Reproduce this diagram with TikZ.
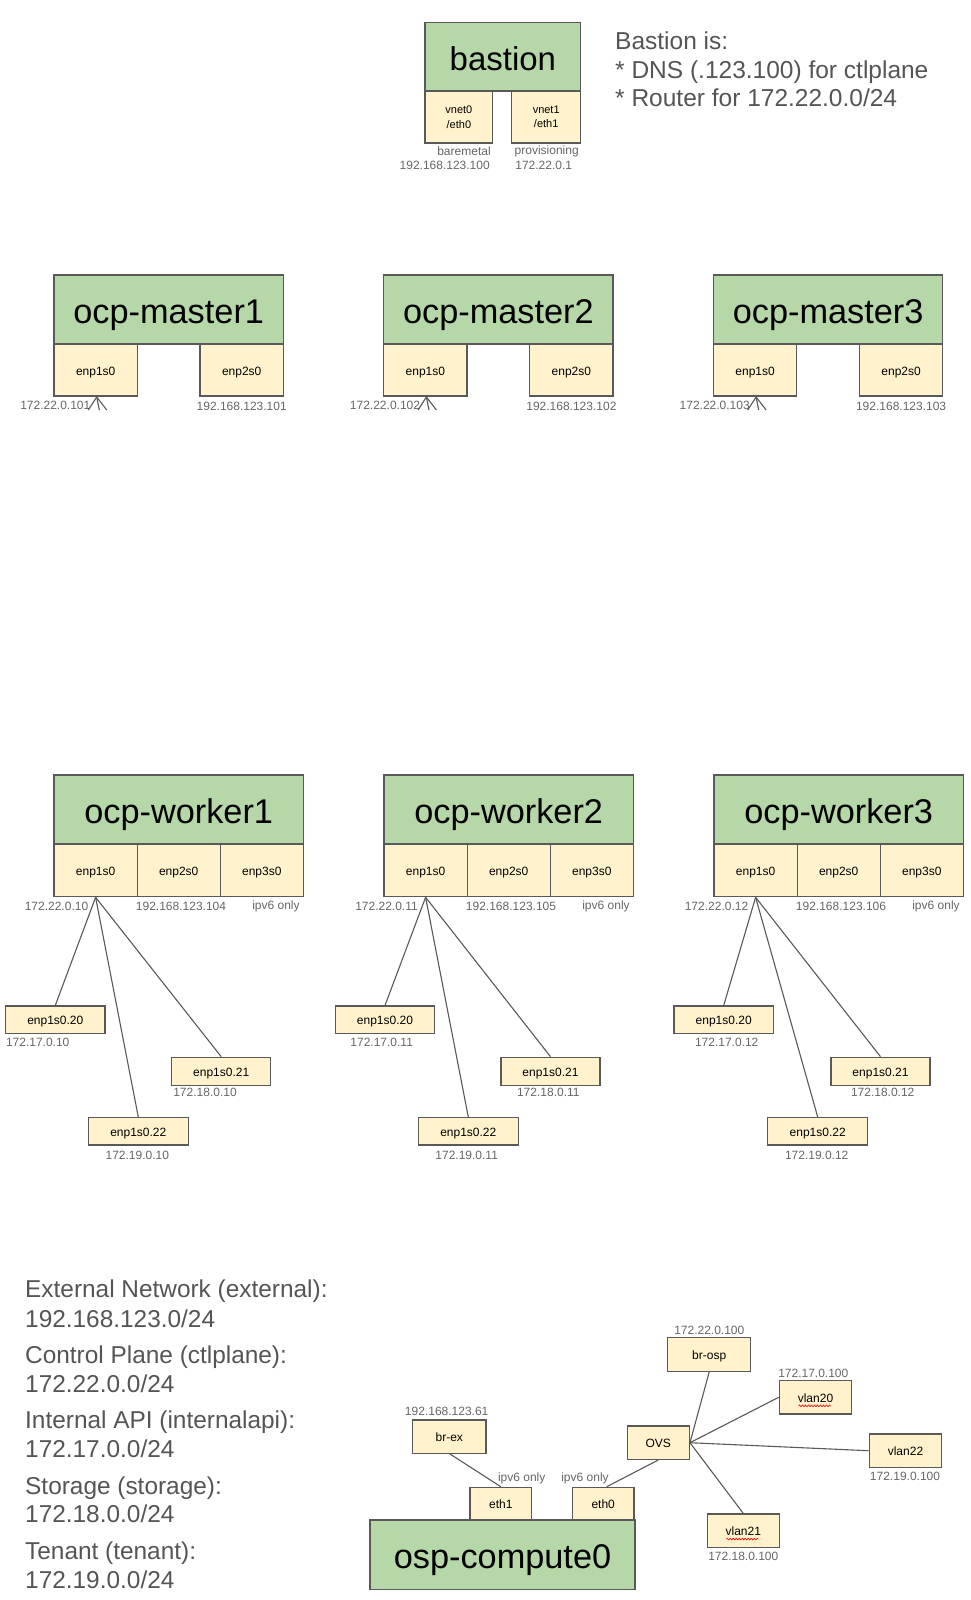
\documentclass[tikz,border=0pt]{standalone}
\usepackage{fontspec}
\setmainfont{Liberation Sans}
\usetikzlibrary{decorations.pathmorphing}
\definecolor{hostgreen}{HTML}{B6D7A8}
\definecolor{ifyellow}{HTML}{FFF2CC}
\definecolor{edgegray}{HTML}{595959}
\definecolor{labelgray}{HTML}{666666}
\definecolor{notegray}{HTML}{555555}
\newcommand\fsz[1]{\fontsize{#1}{#1}\selectfont}
\tikzset{
  host/.style={draw=edgegray, line width=1.3pt, fill=hostgreen, inner sep=0pt, text=black, text height=27pt, text depth=0pt},
  iface/.style={draw=edgegray, line width=1.3pt, fill=ifyellow, inner sep=0pt, text=black, font=\fsz{12}, text height=10pt, text depth=0pt},
  twoline/.style={draw=edgegray, line width=1.3pt, fill=ifyellow, inner sep=0pt, text=black, align=center, font=\fontsize{11}{14.5}\selectfont},
  lbl/.style={inner sep=0pt, text=labelgray, font=\fsz{12}},
  note/.style={inner sep=0pt, text=notegray, anchor=base west},
  link/.style={draw=edgegray, line width=1.1pt},
  spell/.style={draw=red, line width=0.6pt, decorate, decoration={snake, amplitude=0.9pt, segment length=3pt}},
}
\begin{document}
\begin{tikzpicture}[x=1pt,y=-1pt]
\useasboundingbox[fill=white] (0,0) rectangle (971,1600);

% ---------------- bastion ----------------
\node[host, minimum width=155.7pt, minimum height=68.7pt, font=\fsz{33}] (bastion) at (502.9,56.7) {bastion};
\node[twoline, minimum width=67.7pt, minimum height=52pt] (vnet0) at (458.9,117) {vnet0\\/eth0};
\node[twoline, minimum width=69pt, minimum height=52pt] (vnet1) at (546.2,117) {vnet1\\/eth1};
\node[lbl] (bmlbl) at (464,151) {baremetal};
\node[lbl] (bmip) at (444.7,165.2) {192.168.123.100};
\node[lbl] (provlbl) at (546.7,151) {provisioning};
\node[lbl] (provip) at (543.7,165.2) {172.22.0.1};

\node[note, font=\fsz{24.5}] (bnote1) at (615,50) {Bastion is:};
\node[note, font=\fsz{24.5}] (bnote2) at (615,78.3) {* DNS (.123.100) for ctlplane};
\node[note, font=\fsz{24.5}] (bnote3) at (615,106.8) {* Router for 172.22.0.0/24};

% ---------------- masters ----------------
\foreach \i/\dx in {1/0, 2/329.7, 3/659.4} {
  \begin{scope}[xshift=\dx pt]
    \node[host, minimum width=229.3pt, minimum height=69pt, font=\fsz{34.3}] (m\i) at (168.7,309.5) {ocp-master\i};
    \node[iface, minimum width=83.3pt, minimum height=52pt] (m\i-a) at (95.7,370) {enp1s0};
    \node[iface, minimum width=83.3pt, minimum height=52pt] (m\i-b) at (241.7,370) {enp2s0};
    \node[lbl] (m\i-aip) at (55.3,405) {172.22.0.10\i};
    \node[lbl] (m\i-bip) at (241.7,406.7) {192.168.123.10\i};
    \coordinate (m\i-o) at (96.7,397);
    \coordinate (m\i-c1) at (88.3,410);
    \coordinate (m\i-c2) at (99.3,410);
    \coordinate (m\i-c3) at (106.7,410);
    \draw[link] (m\i-o) -- (m\i-c1);
    \draw[link] (m\i-o) -- (m\i-c2);
    \draw[link] (m\i-o) -- (m\i-c3);
  \end{scope}
}

% ---------------- workers ----------------
\foreach \i/\dx/\ip/\ext/\ax/\bx/\cx/\alx/\blx/\clx in
  {1/0/10/104/55.3/221.2/138.3/37.7/205/137.3,
   2/330/11/105/55/220.5/138.3/51.7/218.3/136.7,
   3/660/12/106/63.7/220.5/157.7/66.7/222.7/156.7} {
  \begin{scope}[xshift=\dx pt]
    \node[host, minimum width=249.3pt, minimum height=69pt, font=\fsz{34.3}] (w\i) at (178.7,809.5) {ocp-worker\i};
    \node[iface, minimum width=83.1pt, minimum height=52.7pt] (w\i-a) at (95.6,870.3) {enp1s0};
    \node[iface, minimum width=83.1pt, minimum height=52.7pt] (w\i-b) at (178.7,870.3) {enp2s0};
    \node[iface, minimum width=83.1pt, minimum height=52.7pt] (w\i-c) at (261.8,870.3) {enp3s0};
    \node[lbl] (w\i-aip) at (56.5,906) {172.22.0.\ip};
    \node[lbl] (w\i-bip) at (181,906) {192.168.123.\ext};
    \node[lbl] (w\i-cip) at (276,906) {ipv6 only};
    \node[iface, minimum width=99.3pt, minimum height=27.3pt] (w\i-v20) at (\ax,1019.7) {enp1s0.20};
    \node[iface, minimum width=99pt, minimum height=28.4pt] (w\i-v21) at (\bx,1071.5) {enp1s0.21};
    \node[iface, minimum width=100pt, minimum height=27.3pt] (w\i-v22) at (\cx,1131.3) {enp1s0.22};
    \node[lbl] (w\i-v20ip) at (\alx,1042) {172.17.0.\ip};
    \node[lbl] (w\i-v21ip) at (\blx,1092.7) {172.18.0.\ip};
    \node[lbl] (w\i-v22ip) at (\clx,1155) {172.19.0.\ip};
    \draw[link] (w\i-a.south) -- (w\i-v20.north);
    \draw[link] (w\i-a.south) -- (w\i-v21.north);
    \draw[link] (w\i-a.south) -- (w\i-v22.north);
  \end{scope}
}

% ---------------- legend ----------------
\node[note, font=\fsz{24.4}] (lg1) at (25,1297.6) {External Network (external):};
\node[note, font=\fsz{24.4}] (lg2) at (25,1327) {192.168.123.0/24};
\node[note, font=\fsz{24.4}] (lg3) at (25,1363.7) {Control Plane (ctlplane):};
\node[note, font=\fsz{24.4}] (lg4) at (25,1392.5) {172.22.0.0/24};
\node[note, font=\fsz{24.4}] (lg5) at (25,1428.7) {Internal API (internalapi):};
\node[note, font=\fsz{24.4}] (lg6) at (25,1457.5) {172.17.0.0/24};
\node[note, font=\fsz{24.4}] (lg7) at (25,1494.7) {Storage (storage):};
\node[note, font=\fsz{24.4}] (lg8) at (25,1522.5) {172.18.0.0/24};
\node[note, font=\fsz{24.4}] (lg9) at (25,1559.7) {Tenant (tenant):};
\node[note, font=\fsz{24.4}] (lg10) at (25,1588.3) {172.19.0.0/24};

% ---------------- compute ----------------
\node[host, minimum width=265pt, minimum height=69.3pt, font=\fsz{34.3}] (comp) at (502.5,1554.7) {osp-compute0};
\node[iface, minimum width=61.7pt, minimum height=32.7pt] (eth1) at (500.8,1503.7) {eth1};
\node[iface, minimum width=61.7pt, minimum height=32.7pt] (eth0) at (603.2,1503.7) {eth0};
\node[lbl] (eth1ip) at (521.7,1478.3) {ipv6 only};
\node[lbl] (eth0ip) at (585,1478.3) {ipv6 only};
\node[iface, minimum width=73.3pt, minimum height=33.3pt] (brex) at (449.3,1436.7) {br-ex};
\node[lbl] (brexip) at (446.7,1411.7) {192.168.123.61};
\node[iface, minimum width=62pt, minimum height=33.3pt] (ovs) at (658.3,1442.7) {OVS};
\node[iface, minimum width=83pt, minimum height=34pt] (brosp) at (709.2,1354.3) {br-osp};
\node[lbl] (brospip) at (709.3,1330) {172.22.0.100};
\node[iface, minimum width=72.4pt, minimum height=33.3pt] (vlan20) at (815.5,1397.3) {vlan20};
\node[lbl] (vlan20ip) at (813.3,1373.3) {172.17.0.100};
\node[iface, minimum width=72.4pt, minimum height=33.3pt] (vlan22) at (905.5,1450.7) {vlan22};
\node[lbl] (vlan22ip) at (905,1476) {172.19.0.100};
\node[iface, minimum width=72pt, minimum height=33.3pt] (vlan21) at (743.3,1530.7) {vlan21};
\node[lbl] (vlan21ip) at (743.3,1556) {172.18.0.100};

\draw[spell] ([xshift=-17pt,yshift=-8.5pt]vlan20.center) -- ([xshift=15pt,yshift=-8.5pt]vlan20.center);
\draw[spell] ([xshift=-17pt,yshift=-8.4pt]vlan21.center) -- ([xshift=15pt,yshift=-8.4pt]vlan21.center);

\draw[link] ([xshift=0.7pt]brex.south) -- (eth1.north);
\draw[link] ([xshift=3.5pt]eth0.north) -- (ovs.south);
\draw[link] (brosp.south) -- (ovs.east);
\draw[link] (vlan20.west) -- (ovs.east);
\draw[link] (vlan22.west) -- (ovs.east);
\draw[link] (vlan21.north) -- (ovs.east);
\end{tikzpicture}
\end{document}
